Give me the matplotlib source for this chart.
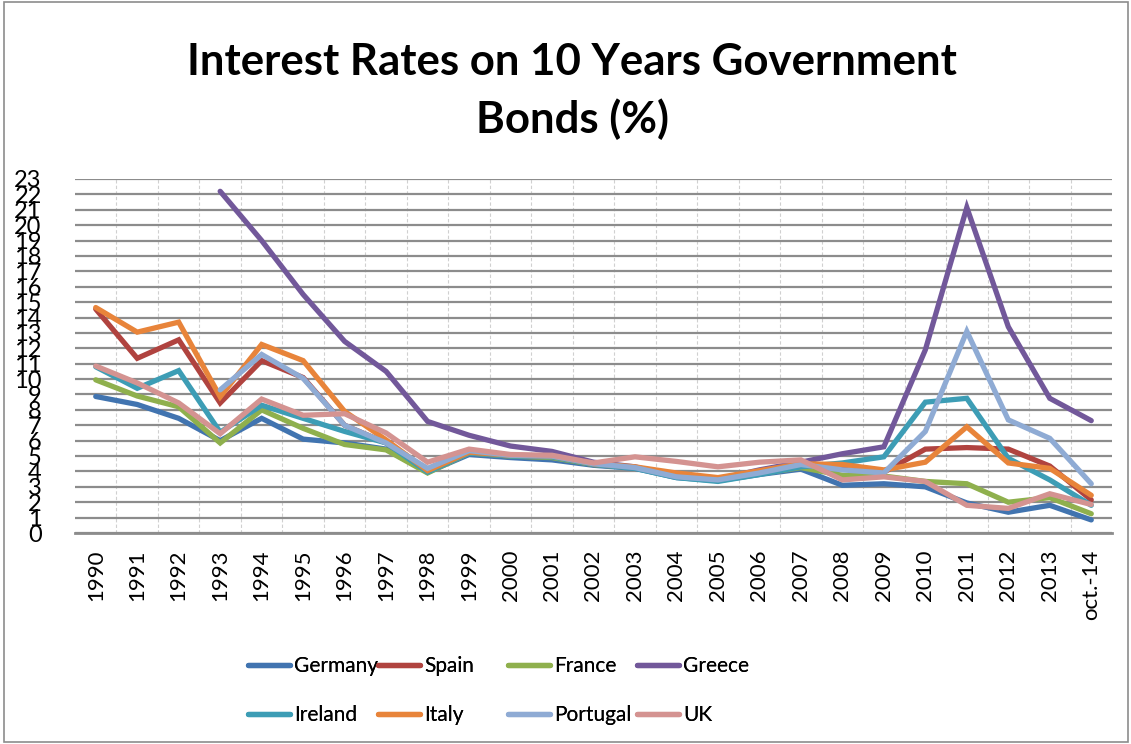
import numpy as np
import matplotlib
matplotlib.use('Agg')
import matplotlib.pyplot as plt
from matplotlib.lines import Line2D
from matplotlib.patches import Rectangle

nan = np.nan

# Categories on the x axis
years = ['1990', '1991', '1992', '1993', '1994', '1995', '1996', '1997', '1998',
         '1999', '2000', '2001', '2002', '2003', '2004', '2005', '2006', '2007',
         '2008', '2009', '2010', '2011', '2012', '2013', 'oct.-14']

# 10-year government bond yields (%)
germany = [8.87, 8.35, 7.45, 6.0, 7.45, 6.1, 5.85, 5.45, 3.95, 5.1, 4.9, 4.75, 4.4,
           4.2, 3.6, 3.4, 3.8, 4.15, 3.1, 3.2, 3.0, 1.95, 1.35, 1.8, 0.85]
spain = [14.55, 11.35, 12.55, 8.45, 11.2, 10.1, 7.0, 5.85, 4.0, 5.25, 5.0, 4.95, 4.45,
         4.25, 3.65, 3.45, 3.85, 4.35, 4.35, 3.95, 5.45, 5.55, 5.45, 4.35, 2.15]
france = [9.95, 8.9, 8.2, 5.85, 8.0, 6.8, 5.75, 5.4, 3.9, 5.2, 5.0, 4.9, 4.45,
          4.25, 3.65, 3.45, 3.85, 4.25, 3.75, 3.7, 3.35, 3.2, 2.0, 2.3, 1.25]
greece = [nan, nan, nan, 22.2, 19.0, 15.5, 12.45, 10.5, 7.25, 6.35, 5.65, 5.3, 4.6,
          4.3, 3.65, 3.5, 4.1, 4.6, 5.15, 5.6, 11.9, 21.15, 13.4, 8.75, 7.3]
ireland = [10.8, 9.4, 10.55, 6.55, 8.3, 7.45, 6.6, 5.85, 3.95, 5.2, 5.0, 4.95, 4.45,
           4.2, 3.6, 3.35, 3.8, 4.3, 4.55, 4.95, 8.5, 8.75, 4.85, 3.45, 1.8]
italy = [14.65, 13.05, 13.7, 8.85, 12.25, 11.2, 7.9, 6.05, 4.05, 5.25, 5.05, 5.0, 4.5,
         4.3, 3.9, 3.6, 4.05, 4.5, 4.45, 4.1, 4.6, 6.9, 4.55, 4.2, 2.45]
portugal = [nan, nan, nan, 9.3, 11.6, 10.05, 7.0, 5.85, 4.2, 5.35, 5.05, 5.0, 4.5,
            4.25, 3.65, 3.45, 3.9, 4.45, 4.1, 3.9, 6.6, 13.1, 7.35, 6.15, 3.2]
uk = [10.85, 9.75, 8.45, 6.45, 8.7, 7.65, 7.75, 6.5, 4.6, 5.45, 5.1, 5.05, 4.55,
      4.95, 4.65, 4.3, 4.6, 4.75, 3.45, 3.65, 3.35, 1.8, 1.6, 2.55, 1.85]

names = ['Germany', 'Spain', 'France', 'Greece', 'Ireland', 'Italy', 'Portugal', 'UK']
series = [germany, spain, france, greece, ireland, italy, portugal, uk]
colors = ['#4174B0', '#B0433F', '#8FB04D', '#72589A', '#3D9DB5', '#E8843A',
          '#8FABD4', '#D49391']

plt.rcParams['font.family'] = ['Lato', 'DejaVu Sans']

fig = plt.figure(figsize=(11.31, 7.44), dpi=100)
ax = fig.add_axes([75 / 1131, 211 / 744, 1037 / 1131, 354 / 744])

x = np.arange(len(years))
for vals, name, col in zip(series, names, colors):
    ax.plot(x, vals, color=col, lw=3.8, label=name, solid_capstyle='round',
            solid_joinstyle='miter')

ax.set_xlim(-0.5, len(years) - 0.5)
ax.set_ylim(0, 23)
ax.set_yticks(range(0, 24))
ax.set_xticks(x)
ax.set_xticklabels(years, rotation=90, fontsize=16)
ax.tick_params(axis='y', labelsize=17, length=0, pad=24)
ax.tick_params(axis='x', length=0, pad=12)

# horizontal gridlines and dashed separators between categories
ax.grid(axis='y', color='#8c8c8c', lw=1.6)
for b in np.arange(0.5, len(years) - 0.5, 1):
    ax.axvline(b, color='#d0d0d0', lw=0.8, ls=(0, (3, 2)), zorder=0)
ax.set_axisbelow(True)
for s in ['top', 'right', 'left']:
    ax.spines[s].set_visible(False)
ax.spines['bottom'].set_color('#8c8c8c')
ax.spines['bottom'].set_linewidth(2)

fig.text(0.506, 1 - 91 / 744, 'Interest Rates on 10 Years Government\nBonds (%)',
         ha='center', va='center', fontsize=31.5, fontweight='bold',
         linespacing=1.45)

# legend laid out as four evenly spaced columns
col_x = [248, 378, 508, 637]
for i, cx in enumerate(col_x):
    idx = [i, i + 4]
    handles = [Line2D([], [], color=colors[k], lw=3.8, solid_capstyle='round')
               for k in idx]
    leg = fig.legend(handles, [names[k] for k in idx], loc='upper left',
                     bbox_to_anchor=(cx / 1131, 1 - 656 / 744), frameon=False,
                     fontsize=15, handlelength=2.0, handletextpad=0.2,
                     labelspacing=1.4, borderpad=0, borderaxespad=0)
    fig.add_artist(leg)

# chart frame
fig.add_artist(Rectangle((4 / 1131, 2 / 744), 1124 / 1131, 740 / 744,
                         transform=fig.transFigure, fill=False,
                         edgecolor='#8c8c8c', lw=1.2))

fig.savefig('out.png', dpi=100)
